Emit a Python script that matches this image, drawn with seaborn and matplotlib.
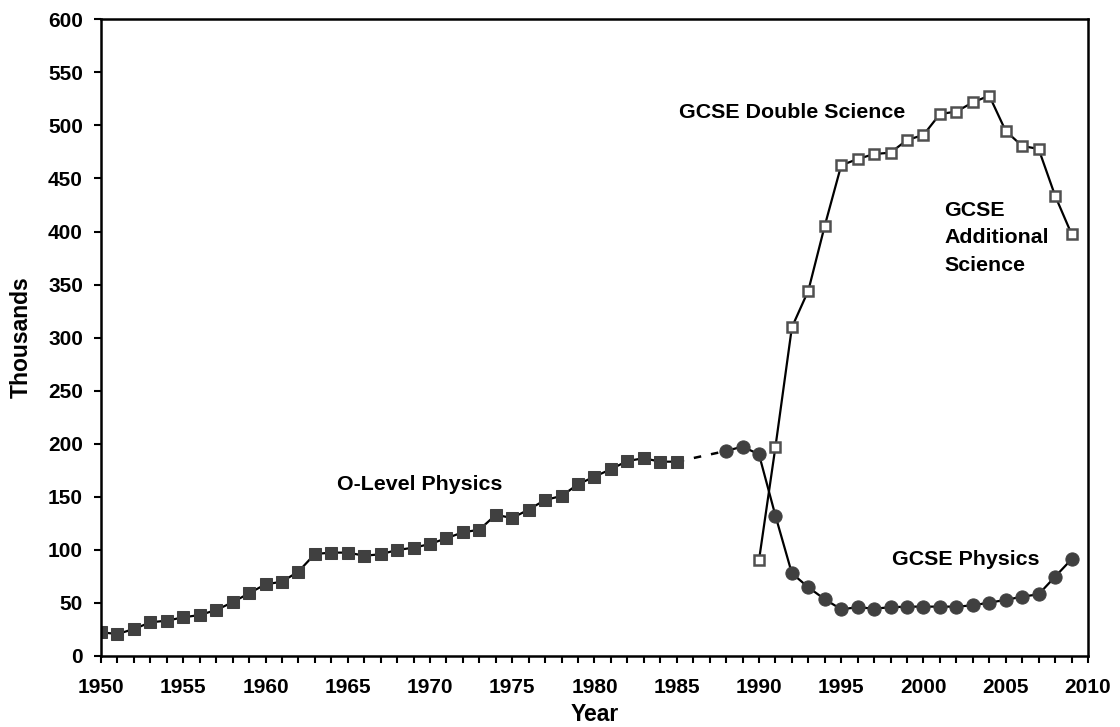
import matplotlib
matplotlib.use("Agg")
import matplotlib.pyplot as plt
import seaborn as sns
import pandas as pd
from matplotlib.ticker import MultipleLocator

# Entradas de examenes (miles)

olevel_years = list(range(1950, 1986))
olevel_vals = [22.3, 20.7, 25.4, 31.7, 33.3, 36.4, 38.6, 43.3, 50.6, 59.1,
               67.5, 70.0, 79.5, 96.1, 97.4, 97.4, 94.5, 95.8, 99.9, 102.0,
               105.5, 111.0, 116.5, 119.0, 133.0, 130.0, 138.0, 147.0, 150.8, 161.8,
               169.0, 176.0, 183.8, 186.3, 183.1, 183.1]

physics_years = [1988, 1989] + list(range(1990, 2010))
physics_vals = [193.2, 197.3, 190.0, 132.2, 77.9, 64.7, 53.4, 44.0, 45.9, 44.6,
                45.9, 46.5, 46.5, 46.5, 46.5, 47.7, 50.3, 52.8, 55.9, 58.1,
                74.7, 91.1]

double_years = list(range(1990, 2010))
double_vals = [90.2, 197.0, 309.7, 344.3, 405.5, 462.4, 468.3, 473.0, 474.3, 486.2,
               491.0, 510.7, 513.0, 521.7, 528.0, 494.7, 480.6, 477.8, 433.8, 397.7]

df_ol = pd.DataFrame({"year": olevel_years, "val": olevel_vals})
df_ph = pd.DataFrame({"year": physics_years, "val": physics_vals})
df_ds = pd.DataFrame({"year": double_years, "val": double_vals})
df_gap = pd.DataFrame({"year": [olevel_years[-1], physics_years[0]],
                       "val": [olevel_vals[-1], physics_vals[0]]})

sns.set_style("ticks")
plt.rcParams['font.family'] = ['Liberation Sans', 'DejaVu Sans']
plt.rcParams['font.weight'] = 'bold'
plt.rcParams['text.color'] = 'black'
plt.rcParams['axes.labelcolor'] = 'black'
plt.rcParams['xtick.color'] = 'black'
plt.rcParams['ytick.color'] = 'black'

fig = plt.figure(figsize=(11.2, 7.27), dpi=100)
ax = fig.add_axes([0.0902, 0.0977, 0.8812, 0.8758])

gris = "#404040"

# Linea discontinua entre O-Level y GCSE
sns.lineplot(data=df_gap, x="year", y="val", ax=ax, color="black",
             linewidth=1.8, linestyle=(0, (3, 4)))

sns.lineplot(data=df_ol, x="year", y="val", ax=ax, color="black", linewidth=1.6,
             marker="s", markersize=9, markerfacecolor=gris, markeredgecolor=gris)
sns.lineplot(data=df_ph, x="year", y="val", ax=ax, color="black", linewidth=1.6,
             marker="o", markersize=9.5, markerfacecolor=gris, markeredgecolor=gris)
sns.lineplot(data=df_ds, x="year", y="val", ax=ax, color="black", linewidth=1.6,
             marker="s", markersize=6.5, markerfacecolor="white",
             markeredgecolor="#505050", markeredgewidth=1.8)

ax.set_xlim(1950, 2010)
ax.set_ylim(0, 600)
ax.xaxis.set_major_locator(MultipleLocator(5))
ax.xaxis.set_minor_locator(MultipleLocator(1))
ax.yaxis.set_major_locator(MultipleLocator(50))
ax.tick_params(axis="both", which="both", direction="out", length=5, width=1.5,
               color="black", labelcolor="black", labelsize=15)
ax.tick_params(axis="x", which="major", pad=11)
ax.tick_params(axis="y", which="major", pad=8)
for lab in ax.get_xticklabels() + ax.get_yticklabels():
    lab.set_fontweight("bold")
for s in ax.spines.values():
    s.set_visible(True)
    s.set_linewidth(1.8)
    s.set_color("black")

ax.set_xlabel("Year", fontsize=16.5, fontweight="bold", labelpad=4)
ax.set_ylabel("Thousands", fontsize=16.5, fontweight="bold", labelpad=11)

ax.text(1969.4, 162, "O-Level Physics", fontsize=15.4, fontweight="bold",
        ha="center", va="center")
ax.text(1992.0, 512.6, "GCSE Double Science", fontsize=15.4, fontweight="bold",
        ha="center", va="center")
ax.text(2001.25, 394, "GCSE\nAdditional\nScience", fontsize=15.4, fontweight="bold",
        ha="left", va="center", linespacing=1.55)
ax.text(2002.6, 90.5, "GCSE Physics", fontsize=15.4, fontweight="bold",
        ha="center", va="center")

plt.savefig("out.png", dpi=100)
plt.close()
